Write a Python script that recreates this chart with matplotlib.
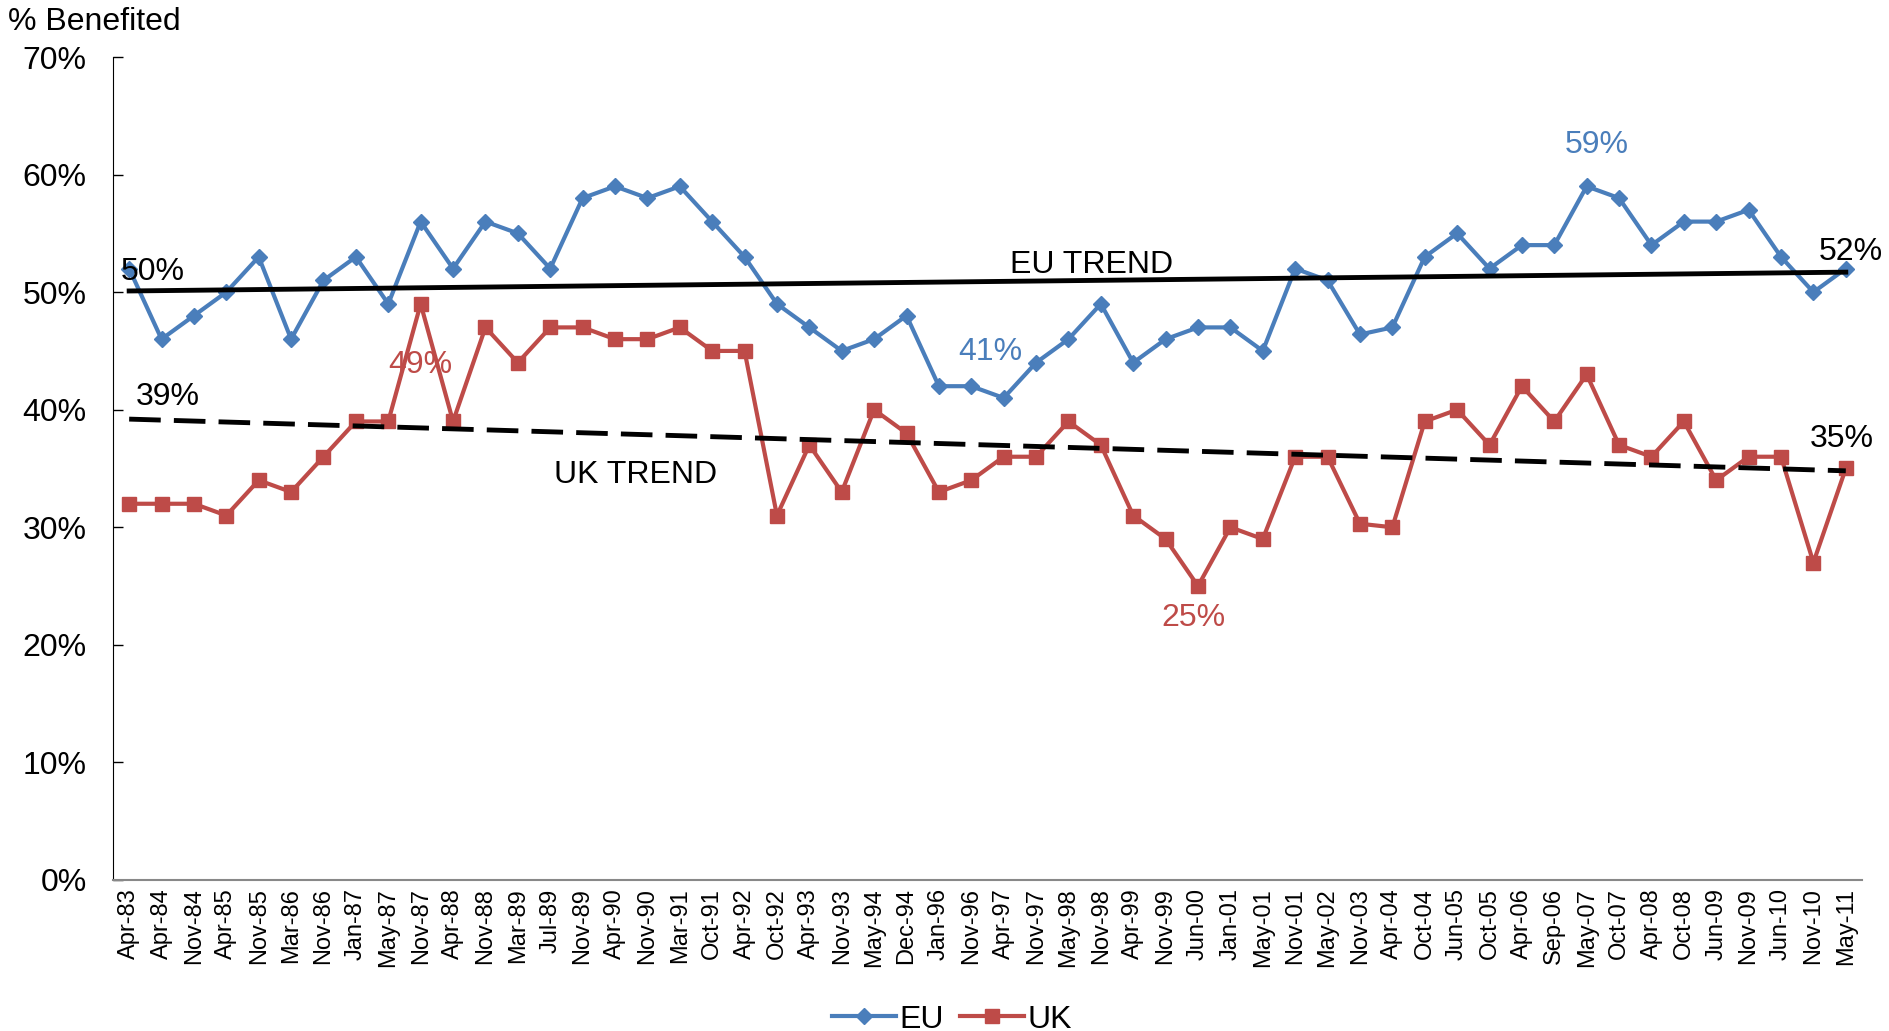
import matplotlib.pyplot as plt
import numpy as np

plt.rcParams['font.family'] = ['Liberation Sans', 'DejaVu Sans']

dates = ['Apr-83', 'Apr-84', 'Nov-84', 'Apr-85', 'Nov-85', 'Mar-86', 'Nov-86', 'Jan-87',
         'May-87', 'Nov-87', 'Apr-88', 'Nov-88', 'Mar-89', 'Jul-89', 'Nov-89', 'Apr-90',
         'Nov-90', 'Mar-91', 'Oct-91', 'Apr-92', 'Oct-92', 'Apr-93', 'Nov-93', 'May-94',
         'Dec-94', 'Jan-96', 'Nov-96', 'Apr-97', 'Nov-97', 'May-98', 'Nov-98', 'Apr-99',
         'Nov-99', 'Jun-00', 'Jan-01', 'May-01', 'Nov-01', 'May-02', 'Nov-03', 'Apr-04',
         'Oct-04', 'Jun-05', 'Oct-05', 'Apr-06', 'Sep-06', 'May-07', 'Oct-07', 'Apr-08',
         'Oct-08', 'Jun-09', 'Nov-09', 'Jun-10', 'Nov-10', 'May-11']

eu = [52, 46, 48, 50, 53, 46, 51, 53, 49, 56, 52, 56, 55, 52, 58, 59, 58, 59, 56, 53,
      49, 47, 45, 46, 48, 42, 42, 41, 44, 46, 49, 44, 46, 47, 47, 45, 52, 51, 46.4, 47,
      53, 55, 52, 54, 54, 59, 58, 54, 56, 56, 57, 53, 50, 52]

uk = [32, 32, 32, 31, 34, 33, 36, 39, 39, 49, 39, 47, 44, 47, 47, 46, 46, 47, 45, 45,
      31, 37, 33, 40, 38, 33, 34, 36, 36, 39, 37, 31, 29, 25, 30, 29, 36, 36, 30.3, 30,
      39, 40, 37, 42, 39, 43, 37, 36, 39, 34, 36, 36, 27, 35]

# trend line end values
eu_trend = [50.1, 51.7]
uk_trend = [39.2, 34.8]

EU_COL = '#4A7EBB'
UK_COL = '#BE4B48'
FS = 23

x = np.arange(len(dates))

fig = plt.figure(figsize=(18.89, 10.31), dpi=100)
ax = fig.add_axes([0.0598, 0.1465, 0.9259, 0.7982])

ax.plot(x, eu, color=EU_COL, lw=3, marker='D', ms=8, label='EU', zorder=3)
ax.plot(x, uk, color=UK_COL, lw=3, marker='s', ms=10, label='UK', zorder=3)

ends = [x[0], x[-1]]
ax.plot(ends, eu_trend, color='black', lw=3.5, zorder=4)
ax.plot(ends, uk_trend, color='black', lw=3.5, ls=(0, (6.5, 2.7)), zorder=4)

ax.set_xlim(-0.5, len(dates) - 0.5)
ax.set_ylim(0, 70)
ax.set_yticks(np.arange(0, 71, 10))
ax.set_yticklabels(['%d%%' % v for v in range(0, 71, 10)], fontsize=FS)
ax.set_xticks(x)
ax.set_xticklabels(dates, rotation=90, fontsize=17)
ax.tick_params(axis='y', direction='in', length=7, width=1, pad=19)
ax.tick_params(axis='x', length=0, pad=6)

ax.spines['top'].set_visible(False)
ax.spines['right'].set_visible(False)
ax.spines['bottom'].set_color('#888888')
ax.spines['bottom'].set_linewidth(1.5)

# annotations
n = len(dates)
ax.text(-0.25, eu_trend[0] + 0.3, '50%', fontsize=FS, ha='left', va='bottom')
ax.text(n + 0.15, eu_trend[1] + 0.4, '52%', fontsize=FS, ha='right', va='bottom')
ax.text(0.2, uk_trend[0] + 0.6, '39%', fontsize=FS, ha='left', va='bottom')
ax.text(n - 0.15, uk_trend[1] + 1.4, '35%', fontsize=FS, ha='right', va='bottom')
ax.text(9, 42.5, '49%', fontsize=FS, color=UK_COL, ha='center', va='bottom')
ax.text(26.6, 43.6, '41%', fontsize=FS, color=EU_COL, ha='center', va='bottom')
ax.text(45.3, 61.2, '59%', fontsize=FS, color=EU_COL, ha='center', va='bottom')
ax.text(32.85, 21.0, '25%', fontsize=FS, color=UK_COL, ha='center', va='bottom')
ax.text(29.7, 51.0, 'EU TREND', fontsize=FS, ha='center', va='bottom')
ax.text(15.65, 33.2, 'UK TREND', fontsize=FS, ha='center', va='bottom')

fig.text(0.004, 0.979, '% Benefited', fontsize=FS, ha='left', va='center')

fig.legend(*ax.get_legend_handles_labels(), loc='center', bbox_to_anchor=(0.504, 0.011),
           ncol=2, frameon=False, fontsize=FS, handlelength=2.0, handletextpad=0.1,
           columnspacing=0.5, borderpad=0)

fig.savefig('out.png', dpi=100)
